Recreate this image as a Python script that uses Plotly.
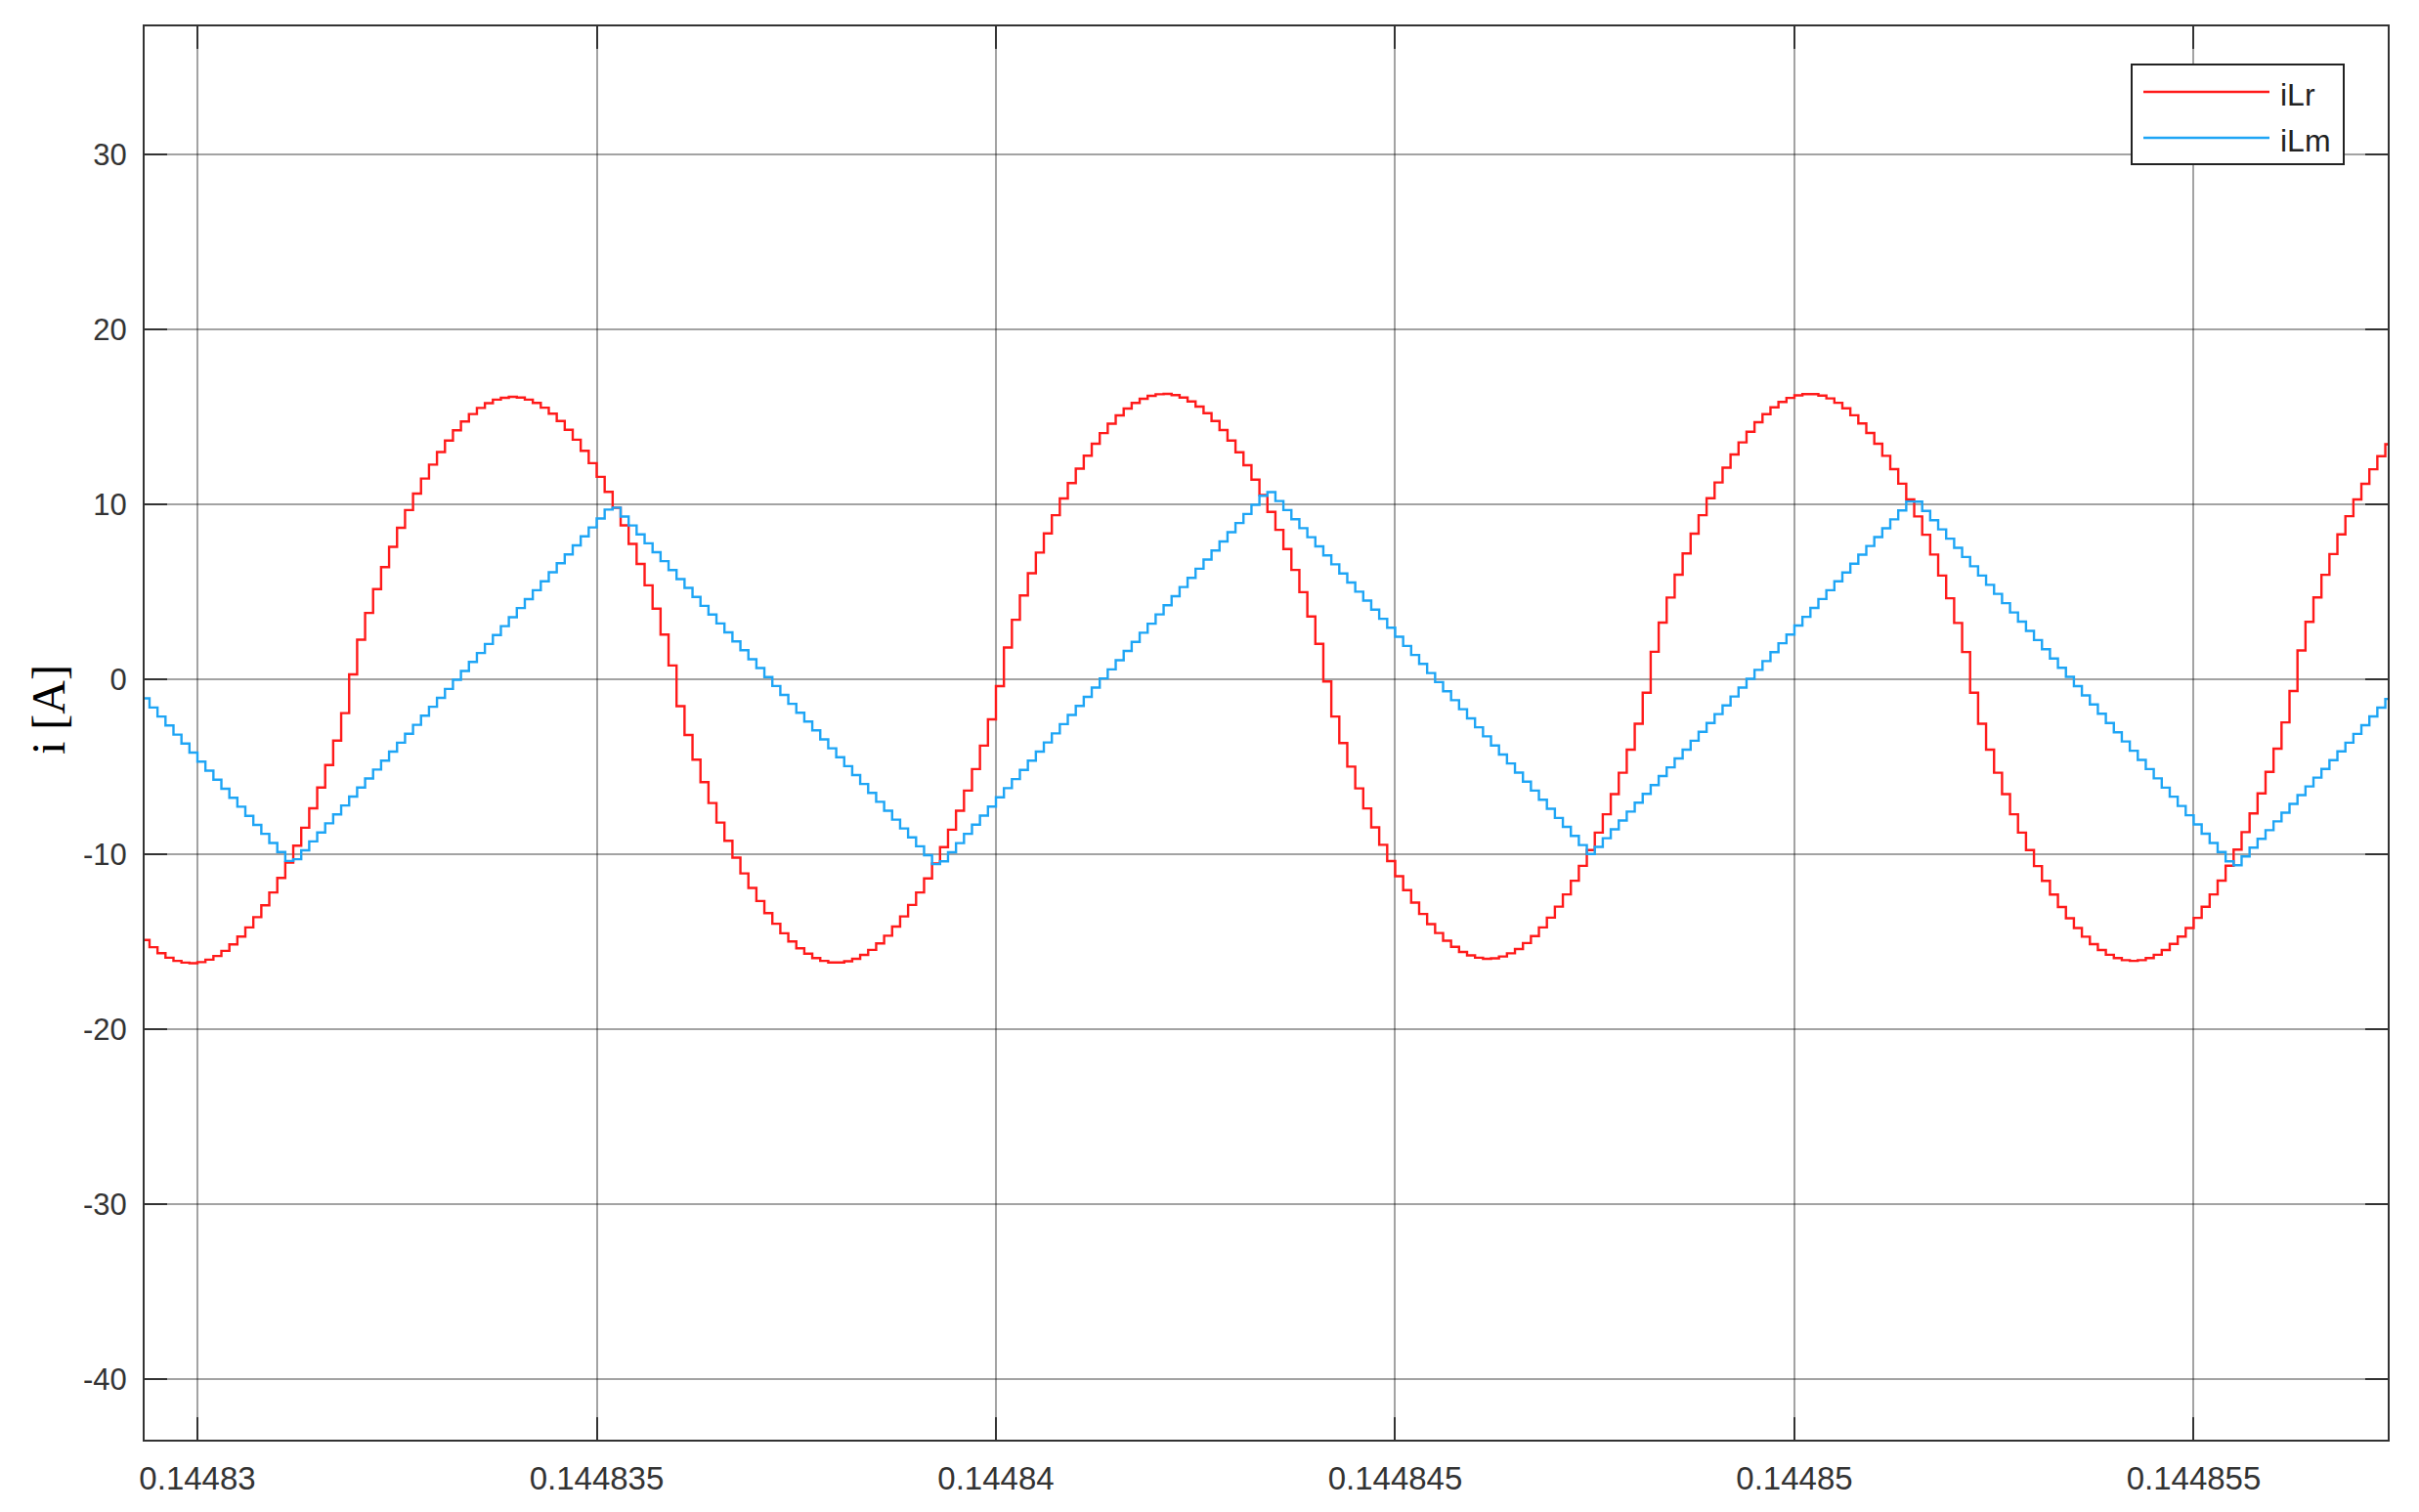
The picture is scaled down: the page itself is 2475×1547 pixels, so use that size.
import plotly.graph_objects as go

# ---- time base: simulation samples, 0.1 us apart, starting at 0.1448293 s ----
T_START = 0.1448293
T_STEP = 1e-7

# ---- tick values / labels ----
X_TICKS = [0.14483, 0.144835, 0.14484, 0.144845, 0.14485, 0.144855]
X_TICK_LABELS = ["0.14483", "0.144835", "0.14484", "0.144845", "0.14485", "0.144855"]
Y_TICKS = [-40, -30, -20, -10, 0, 10, 20, 30]
Y_TICK_LABELS = ["-40", "-30", "-20", "-10", "0", "10", "20", "30"]

# ---- series values (A) ----
iLr = [
    -14.91, -15.32, -15.66, -15.92, -16.10, -16.20, -16.23, -16.17, -16.03, -15.82,
    -15.53, -15.16, -14.71, -14.19, -13.60, -12.92, -12.19, -11.36, -10.48, -9.52,
    -8.49, -7.38, -6.19, -4.91, -3.51, -1.94, 0.27, 2.25, 3.78, 5.14,
    6.40, 7.56, 8.65, 9.66, 10.60, 11.46, 12.26, 12.98, 13.63, 14.22,
    14.72, 15.15, 15.50, 15.77, 15.97, 16.08, 16.13, 16.09, 15.97, 15.78,
    15.51, 15.17, 14.75, 14.25, 13.68, 13.05, 12.34, 11.56, 10.70, 9.79,
    8.79, 7.73, 6.58, 5.36, 4.03, 2.55, 0.78, -1.54, -3.19, -4.60,
    -5.89, -7.08, -8.20, -9.24, -10.20, -11.10, -11.93, -12.68, -13.37, -13.98,
    -14.52, -14.99, -15.38, -15.69, -15.94, -16.10, -16.19, -16.19, -16.12, -15.98,
    -15.76, -15.47, -15.10, -14.66, -14.14, -13.56, -12.90, -12.19, -11.39, -10.53,
    -9.60, -8.60, -7.52, -6.37, -5.14, -3.80, -2.30, -0.40, 1.81, 3.39,
    4.78, 6.05, 7.23, 8.33, 9.37, 10.32, 11.20, 12.03, 12.77, 13.45,
    14.06, 14.60, 15.07, 15.46, 15.78, 16.02, 16.19, 16.28, 16.30, 16.23,
    16.09, 15.87, 15.57, 15.20, 14.75, 14.23, 13.63, 12.96, 12.22, 11.40,
    10.52, 9.56, 8.53, 7.43, 6.24, 4.97, 3.58, 2.02, -0.13, -2.14,
    -3.65, -5.00, -6.24, -7.39, -8.47, -9.47, -10.40, -11.26, -12.06, -12.77,
    -13.42, -14.00, -14.51, -14.95, -15.30, -15.59, -15.79, -15.92, -15.98, -15.95,
    -15.85, -15.67, -15.42, -15.08, -14.68, -14.19, -13.63, -13.00, -12.30, -11.52,
    -10.67, -9.77, -8.77, -7.72, -6.57, -5.35, -4.03, -2.55, -0.78, 1.56,
    3.23, 4.66, 5.97, 7.18, 8.31, 9.37, 10.34, 11.24, 12.08, 12.84,
    13.53, 14.14, 14.68, 15.14, 15.53, 15.84, 16.07, 16.22, 16.29, 16.29,
    16.20, 16.04, 15.79, 15.48, 15.08, 14.61, 14.07, 13.45, 12.76, 12.00,
    11.17, 10.27, 9.30, 8.25, 7.12, 5.92, 4.62, 3.21, 1.55, -0.78,
    -2.55, -4.03, -5.35, -6.57, -7.72, -8.77, -9.77, -10.68, -11.53, -12.31,
    -13.02, -13.66, -14.22, -14.72, -15.14, -15.48, -15.75, -15.94, -16.06, -16.10,
    -16.06, -15.94, -15.75, -15.48, -15.13, -14.71, -14.22, -13.64, -13.01, -12.30,
    -11.51, -10.66, -9.74, -8.74, -7.67, -6.53, -5.30, -3.97, -2.47, -0.68,
    1.64, 3.27, 4.67, 5.96, 7.15, 8.27, 9.31, 10.27, 11.16, 11.99,
    12.74, 13.42, 14.03,
]

iLm = [
    -1.10, -1.62, -2.14, -2.65, -3.17, -3.68, -4.20, -4.71, -5.23, -5.75,
    -6.26, -6.78, -7.29, -7.81, -8.33, -8.84, -9.36, -9.88, -10.39, -10.29,
    -9.78, -9.27, -8.76, -8.24, -7.73, -7.22, -6.71, -6.19, -5.68, -5.17,
    -4.66, -4.14, -3.63, -3.12, -2.61, -2.09, -1.58, -1.07, -0.56, -0.04,
    0.47, 0.98, 1.49, 2.01, 2.52, 3.03, 3.54, 4.06, 4.57, 5.08,
    5.59, 6.11, 6.62, 7.13, 7.64, 8.16, 8.67, 9.18, 9.69, 9.80,
    9.29, 8.78, 8.27, 7.76, 7.25, 6.74, 6.23, 5.72, 5.21, 4.70,
    4.19, 3.69, 3.18, 2.67, 2.16, 1.65, 1.14, 0.63, 0.12, -0.39,
    -0.90, -1.41, -1.92, -2.42, -2.93, -3.44, -3.95, -4.46, -4.97, -5.48,
    -5.99, -6.50, -7.01, -7.52, -8.03, -8.53, -9.04, -9.55, -10.06, -10.57,
    -10.41, -9.89, -9.37, -8.84, -8.32, -7.80, -7.28, -6.75, -6.23, -5.71,
    -5.19, -4.66, -4.14, -3.62, -3.10, -2.57, -2.05, -1.53, -1.01, -0.48,
    0.04, 0.56, 1.08, 1.61, 2.13, 2.65, 3.17, 3.70, 4.22, 4.74,
    5.26, 5.79, 6.31, 6.83, 7.35, 7.87, 8.40, 8.92, 9.44, 9.96,
    10.48, 10.69, 10.18, 9.66, 9.14, 8.63, 8.11, 7.59, 7.07, 6.56,
    6.04, 5.52, 5.00, 4.49, 3.97, 3.45, 2.94, 2.42, 1.90, 1.38,
    0.87, 0.35, -0.17, -0.69, -1.20, -1.72, -2.24, -2.75, -3.27, -3.79,
    -4.31, -4.82, -5.34, -5.86, -6.37, -6.89, -7.41, -7.93, -8.44, -8.96,
    -9.48, -9.99, -9.59, -9.09, -8.58, -8.08, -7.57, -7.06, -6.56, -6.05,
    -5.54, -5.04, -4.53, -4.03, -3.52, -3.01, -2.51, -2.00, -1.50, -0.99,
    -0.48, 0.02, 0.53, 1.03, 1.54, 2.05, 2.55, 3.06, 3.56, 4.07,
    4.58, 5.08, 5.59, 6.09, 6.60, 7.11, 7.61, 8.12, 8.62, 9.13,
    9.64, 10.15, 10.14, 9.61, 9.08, 8.56, 8.03, 7.50, 6.98, 6.45,
    5.92, 5.39, 4.87, 4.34, 3.81, 3.29, 2.76, 2.23, 1.71, 1.18,
    0.65, 0.13, -0.40, -0.93, -1.45, -1.98, -2.51, -3.04, -3.56, -4.09,
    -4.62, -5.14, -5.67, -6.20, -6.72, -7.25, -7.78, -8.30, -8.83, -9.36,
    -9.88, -10.41, -10.63, -10.13, -9.63, -9.13, -8.63, -8.13, -7.63, -7.13,
    -6.63, -6.13, -5.63, -5.13, -4.63, -4.13, -3.63, -3.13, -2.63, -2.13,
    -1.63, -1.13, -0.63,
]

SERIES_NAMES = ["iLr", "iLm"]
COLORS = ["#ff1a1a", "#1ea5f5"]

t = [T_START + i * T_STEP for i in range(len(iLr))]

fig = go.Figure()
for name, vals, col in zip(SERIES_NAMES, [iLr, iLm], COLORS):
    fig.add_trace(go.Scatter(x=t, y=vals, mode="lines", name=name,
                             line=dict(color=col, width=2.4, shape="hv"),
                             showlegend=False))

# page body has an 8px default margin -> figure is drawn 8px right/down
OFF = 8
W, H = 2475 - OFF, 1547 - OFF
# plot area in screen pixels: left 148, right 2443, top 27, bottom 1473
L, R, T, B = 148 - OFF, 2443 - OFF, 27 - OFF, 1473 - OFF


def px(x):
    return (x - OFF - L) / (R - L)


def py(y):
    return (B - (y - OFF)) / (B - T)


axis_common = dict(
    showline=True, linecolor="#333333", linewidth=2, mirror="allticks",
    ticks="inside", ticklen=23, tickwidth=2, tickcolor="#333333",
    showgrid=True, gridcolor="rgba(0,0,0,0.36)", gridwidth=1.7,
    zeroline=False,
)

fig.update_layout(
    width=W, height=H,
    margin=dict(l=L, r=W - R, t=T, b=H - B),
    paper_bgcolor="white", plot_bgcolor="white",
    xaxis=dict(range=[0.144829339, 0.14485743], tickmode="array",
               tickvals=X_TICKS, ticktext=X_TICK_LABELS,
               ticklabelstandoff=9,
               tickfont=dict(family="Liberation Sans, Arial, sans-serif", size=33, color="#333333"),
               **axis_common),
    yaxis=dict(range=[-43.46, 37.3], tickmode="array",
               tickvals=Y_TICKS, ticktext=Y_TICK_LABELS,
               ticklabelstandoff=10,
               tickfont=dict(family="Liberation Sans, Arial, sans-serif", size=31, color="#333333"),
               **axis_common),
    showlegend=False,
)

# y-axis title
fig.add_annotation(xref="paper", yref="paper", x=px(50), y=py(726),
                   text="i [A]", textangle=-90, showarrow=False,
                   font=dict(family="Liberation Serif, Times New Roman, serif", size=48, color="black"),
                   xanchor="center", yanchor="middle")

# legend box (drawn manually to match the long line samples)
fig.add_shape(type="rect", xref="paper", yref="paper",
              x0=px(2181), x1=px(2398), y0=py(168), y1=py(66),
              line=dict(color="#222222", width=2), fillcolor="white", layer="above")
legend_rows = [94, 141]
for name, col, yy in zip(SERIES_NAMES, COLORS, legend_rows):
    fig.add_shape(type="line", xref="paper", yref="paper",
                  x0=px(2193), x1=px(2322), y0=py(yy), y1=py(yy),
                  line=dict(color=col, width=2.5), layer="above")
    fig.add_annotation(xref="paper", yref="paper", x=px(2331), y=py(yy + 3),
                       text=name, showarrow=False, xanchor="left", yanchor="middle",
                       font=dict(family="Liberation Sans, Arial, sans-serif", size=32, color="#222222"))

fig.write_html("out.html")
